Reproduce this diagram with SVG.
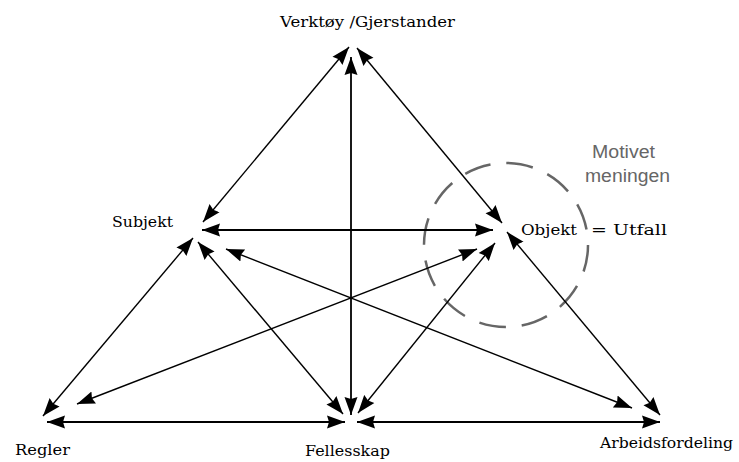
<svg xmlns="http://www.w3.org/2000/svg" width="739" height="462" viewBox="0 0 739 462">
  <defs>
    <marker id="ah" markerUnits="userSpaceOnUse" markerWidth="20" markerHeight="14" refX="18" refY="7" orient="auto-start-reverse" viewBox="0 0 20 14">
      <path d="M0,0.5 L18,7 L0,13.5 L2,7 z" fill="#000"/>
    </marker>
    <style>
      .lbl { font-family: "DejaVu Serif", "Liberation Serif", serif; font-size: 15.5px; fill: #000; }
      .note { font-family: "Liberation Sans", Arial, sans-serif; font-size: 18px; fill: #666; }
      .c { stroke: #000; stroke-width: 1.4; fill: none; marker-start: url(#ah); marker-end: url(#ah); }
      .c2 { stroke-width: 1.8; }
      .circ { fill: none; stroke: #666; stroke-width: 2.5; stroke-dasharray: 27 15.9; }
    </style>
  </defs>
  <rect width="739" height="462" fill="#fff"/>

  <g id="motive">
    <circle class="circ" cx="506" cy="245" r="82"/>
    <text class="note" x="592" y="158" textLength="63" lengthAdjust="spacingAndGlyphs">Motivet</text>
    <text class="note" x="585" y="182" textLength="85" lengthAdjust="spacingAndGlyphs">meningen</text>
  </g>

  <g id="connectors">
    <line class="c" x1="203" y1="222" x2="349" y2="47"/>
    <line class="c" x1="502" y1="223" x2="357" y2="48"/>
    <line class="c c2" x1="351" y1="415" x2="351" y2="57"/>
    <line class="c c2" x1="202" y1="230" x2="493" y2="230"/>
    <line class="c" x1="193" y1="238" x2="43" y2="416"/>
    <line class="c" x1="198" y1="242" x2="343" y2="414"/>
    <line class="c" x1="226" y1="249" x2="632" y2="408"/>
    <line class="c" x1="507" y1="232" x2="660" y2="415"/>
    <line class="c" x1="477" y1="249" x2="77" y2="404"/>
    <line class="c" x1="495" y1="243" x2="358" y2="413"/>
    <line class="c c2" x1="47" y1="422" x2="345" y2="422"/>
    <line class="c c2" x1="357" y1="422" x2="660" y2="422"/>
  </g>

  <g id="verktoy">
    <text class="lbl" x="280" y="27" textLength="175" lengthAdjust="spacingAndGlyphs">Verktøy /Gjerstander</text>
  </g>
  <g id="subjekt">
    <text class="lbl" x="112" y="227" textLength="61" lengthAdjust="spacingAndGlyphs">Subjekt</text>
  </g>
  <g id="objekt">
    <text class="lbl" x="521" y="235" textLength="56" lengthAdjust="spacingAndGlyphs">Objekt</text>
    <text class="lbl" x="591" y="235" textLength="76" lengthAdjust="spacingAndGlyphs">= Utfall</text>
  </g>
  <g id="regler">
    <text class="lbl" x="15" y="455" textLength="55" lengthAdjust="spacingAndGlyphs">Regler</text>
  </g>
  <g id="fellesskap">
    <text class="lbl" x="305" y="456" textLength="85" lengthAdjust="spacingAndGlyphs">Fellesskap</text>
  </g>
  <g id="arbeidsfordeling">
    <text class="lbl" x="600" y="448" textLength="133" lengthAdjust="spacingAndGlyphs">Arbeidsfordeling</text>
  </g>
</svg>
